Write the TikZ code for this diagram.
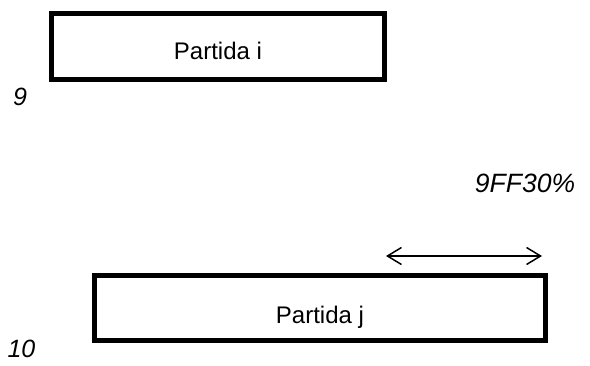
\documentclass[tikz,border=0pt]{standalone}
\usepackage{fontspec}
\setmainfont{Liberation Sans}
\usetikzlibrary{arrows.meta}
\begin{document}
\begin{tikzpicture}[x=1pt,y=1pt,
  partbox/.style={draw=black, line width=5pt, rectangle, inner sep=0pt, text depth=0pt, font=\fontsize{24}{27}\selectfont},
  numlabel/.style={anchor=base, inner sep=0pt, font=\fontsize{25}{28}\selectfont\itshape},
  span/.style={line width=1.5pt, {Straight Barb[length=14pt,width=17pt,line width=1.5pt]}-{Straight Barb[length=14pt,width=17pt,line width=1.5pt]}}
]
\useasboundingbox (0,0) rectangle (590,365);
\node[partbox, minimum width=333pt, minimum height=66pt, text height=27pt] (pi) at (218,318.5) {Partida i};
\node[partbox, minimum width=451pt, minimum height=64.5pt, text height=30.5pt] (pj) at (320,57.25) {Partida j};
\node[numlabel] (n9) at (20,259) {9};
\node[numlabel] (n10) at (21.5,8) {10};
\node[numlabel, font=\fontsize{26.5}{30}\selectfont\itshape] (pct) at (525,172) {9FF30\%};
\coordinate (aL) at (386,109);
\coordinate (aR) at (542,109);
\draw[span] (aL) -- (aR);
\end{tikzpicture}
\end{document}
